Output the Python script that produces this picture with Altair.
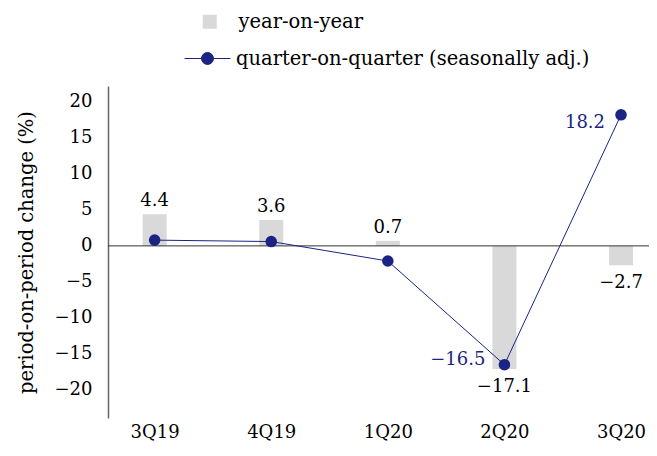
import json

import altair as alt
import pandas as pd

quarters = ["3Q19", "4Q19", "1Q20", "2Q20", "3Q20"]
yoy = [4.4, 3.6, 0.7, -17.1, -2.7]
qoq = [0.8, 0.6, -2.1, -16.5, 18.2]
qoq_labelled = [False, False, False, True, True]

YOY_NAME = "year-on-year"
QOQ_NAME = "quarter-on-quarter (seasonally adj.)"
GREY = "#d9d9d9"
NAVY = "#1b2483"
FONT = "DejaVu Serif"
FS = 18         # numbers
FS_TEXT = 19.5  # words

df = pd.DataFrame(
    {"idx": range(len(quarters)), "quarter": quarters, "yoy": yoy, "qoq": qoq, "lab": qoq_labelled}
)
df["s_yoy"] = YOY_NAME
df["s_qoq"] = QOQ_NAME

x = alt.X(
    "idx:Q",
    scale=alt.Scale(domain=[-0.4, 4.24], nice=False, zero=False, padding=0),
    axis=alt.Axis(
        values=list(range(len(quarters))),
        labelExpr=f"{json.dumps(quarters)}[datum.value]",
        title=None, grid=False, domain=False, ticks=False, labelPadding=5,
    ),
)
y_scale = alt.Scale(domain=[-23.9, 22.2], nice=False, zero=False)
y_axis = alt.Axis(
    values=list(range(-20, 25, 5)), title="period-on-period change (%)",
    grid=False, ticks=False, labelPadding=16, titlePadding=18, titleFontSize=FS_TEXT,
    domainColor="#666", domainWidth=1.5,
)


def y(field):
    return alt.Y(f"{field}:Q", scale=y_scale, axis=y_axis)


base = alt.Chart(df)

bars = base.mark_bar(size=24).encode(
    x=x, y=y("yoy"),
    fill=alt.Fill(
        "s_yoy:N",
        scale=alt.Scale(domain=[YOY_NAME], range=[GREY]),
        legend=alt.Legend(
            title=None, orient="none", legendX=92, legendY=-74,
            symbolType="square", symbolSize=196, labelOffset=19, padding=0,
            labelLimit=500,
        ),
    ),
)

zero = alt.Chart(pd.DataFrame({"zero": [0]})).mark_rule(color="#333", strokeWidth=1).encode(
    y=y("zero")
)

line = base.mark_line(strokeWidth=1).encode(
    x=x, y=y("qoq"),
    stroke=alt.Stroke(
        "s_qoq:N",
        scale=alt.Scale(domain=[QOQ_NAME], range=[NAVY]),
        legend=alt.Legend(
            title=None, orient="none", legendX=76, legendY=-51,
            symbolType="M-1,0H1M-0.26,0A0.26,0.26,0,1,0,0.26,0A0.26,0.26,0,1,0,-0.26,0Z",
            symbolSize=2116, symbolFillColor=NAVY, symbolStrokeWidth=1,
            labelOffset=5, padding=0, labelLimit=500,
        ),
    ),
)

points = base.mark_circle(size=135, color=NAVY, opacity=1).encode(x=x, y=y("qoq"))

text_style = dict(font=FONT, fontSize=FS)
yoy_pos = base.transform_filter("datum.yoy >= 0").mark_text(
    dy=-8, baseline="alphabetic", color="black", **text_style
).encode(x=x, y=y("yoy"), text=alt.Text("yoy:Q", format=".1f"))
yoy_neg = base.transform_filter("datum.yoy < 0").mark_text(
    dy=23, baseline="alphabetic", color="black", **text_style
).encode(x=x, y=y("yoy"), text=alt.Text("yoy:Q", format=".1f"))
qoq_up = base.transform_filter("datum.lab && datum.qoq >= 0").mark_text(
    dx=-16, dy=13, align="right", baseline="alphabetic", color=NAVY, **text_style
).encode(x=x, y=y("qoq"), text=alt.Text("qoq:Q", format=".1f"))
qoq_down = base.transform_filter("datum.lab && datum.qoq < 0").mark_text(
    dx=-19, dy=0, align="right", baseline="alphabetic", color=NAVY, **text_style
).encode(x=x, y=y("qoq"), text=alt.Text("qoq:Q", format=".1f"))

chart = (
    alt.layer(bars, zero, line, points, yoy_pos, yoy_neg, qoq_up, qoq_down)
    .resolve_legend(fill="independent", stroke="independent")
    .properties(
        width=541, height=332,
        autosize=alt.AutoSizeParams(type="none"),
        padding={"left": 100, "top": 78, "right": 0, "bottom": 26},
    )
    .configure_view(stroke=None)
    .configure_axis(
        labelFont=FONT, labelFontSize=FS, labelColor="black", labelFontWeight="normal",
        titleFont=FONT, titleFontSize=FS_TEXT, titleColor="black", titleFontWeight="normal",
    )
    .configure_legend(labelFont=FONT, labelFontSize=FS_TEXT, labelColor="black")
)

chart.save("out.html", embed_options={"renderer": "svg", "actions": False})
